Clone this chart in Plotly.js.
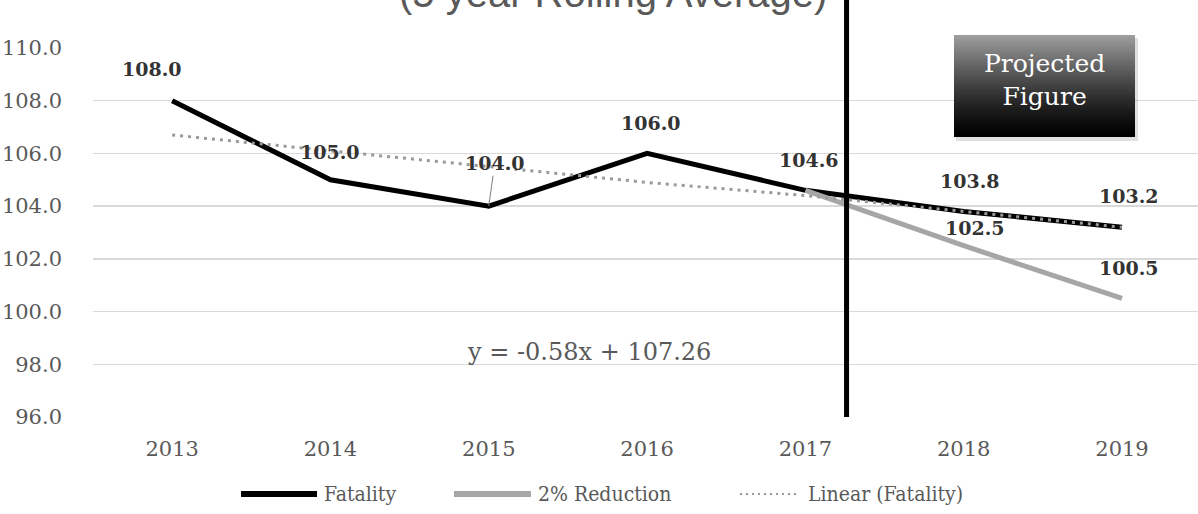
<!DOCTYPE html>
<html>
<head>
<meta charset="utf-8">
<script src="https://cdn.plot.ly/plotly-3.0.1.min.js"></script>
<style>
  html, body { margin: 0; padding: 0; background: #fff; }
  #chart { width: 1198px; height: 514px; }
</style>
</head>
<body>
<div id="chart"></div>
<script>
// ---- data ----
const years = ["2013", "2014", "2015", "2016", "2017", "2018", "2019"];
const fatality = [108.0, 105.0, 104.0, 106.0, 104.6, 103.8, 103.2];
const reductionYears = ["2017", "2018", "2019"];
const reduction = [104.6, 102.5, 100.5];
const trendFatality = [106.7, 106.1, 105.5, 104.9, 104.4, 103.8, 103.2];
const yTicks = [96, 98, 100, 102, 104, 106, 108, 110];
const seriesNames = ["Fatality", "2% Reduction", "Linear (Fatality)"];
const titleText = "(5 year Rolling Average)";
const equationText = "y = -0.58x + 107.26";
const projectedText = "Projected<br>Figure";
const dividerAt = 4.26; // category index where actual data ends (vertical line)

// ---- layout geometry ----
const W = 1198, H = 514;
const M = { l: 93, r: 0, t: 48, b: 97 };
const xRange = [-0.5, 6.48];
const yRange = [96, 110];
const plotW = W - M.l - M.r, plotH = H - M.t - M.b;
const px = x => (x - M.l) / plotW;        // pixel x -> paper
const py = y => (H - M.b - y) / plotH;     // pixel y -> paper
const catToPaper = c => (c - xRange[0]) / (xRange[1] - xRange[0]);
const catIndex = name => years.indexOf(name);

const serif = "DejaVu Serif, Liberation Serif, serif";
const labelFont = { family: serif, size: 19, color: "#333333" };

const traces = [
  { x: years, y: fatality, name: seriesNames[0], type: "scatter", mode: "lines",
    line: { color: "#000000", width: 5 }, showlegend: false, hoverinfo: "skip" },
  { x: reductionYears, y: reduction, name: seriesNames[1], type: "scatter", mode: "lines",
    line: { color: "#a6a6a6", width: 5 }, showlegend: false, hoverinfo: "skip" },
  { x: years, y: trendFatality, name: seriesNames[2], type: "scatter", mode: "lines",
    line: { color: "#9a9a9a", width: 3, dash: "3px,5px" }, showlegend: false, hoverinfo: "skip" }
];

// data label offsets (pixels) – layout only
const fatalityLabelShift = [[-20, 32], [0, 28], [0, 0], [4, 30], [4, 30], [6, 30], [7, 31]];
const reductionLabelShift = [[0, 0], [11, 18], [7, 30]];

const annotations = [];
fatality.forEach((v, i) => {
  const txt = "<b>" + v.toFixed(1) + "</b>";
  if (i === 2) {
    annotations.push({ x: i, y: v, xref: "x", yref: "y", text: txt,
      showarrow: true, arrowhead: 0, arrowwidth: 1, arrowcolor: "#7f7f7f",
      ax: 6, ay: -43, standoff: 0, font: labelFont });
  } else {
    annotations.push({ x: i, y: v, xref: "x", yref: "y", text: txt,
      showarrow: false, xshift: fatalityLabelShift[i][0], yshift: fatalityLabelShift[i][1],
      font: labelFont });
  }
});
reduction.forEach((v, i) => {
  if (i === 0) return; // shares the 104.6 label
  annotations.push({ x: catIndex(reductionYears[i]), y: v, xref: "x", yref: "y",
    text: "<b>" + v.toFixed(1) + "</b>",
    showarrow: false, xshift: reductionLabelShift[i][0], yshift: reductionLabelShift[i][1],
    font: labelFont });
});

// title (cut at top as in the reference)
annotations.push({ xref: "paper", yref: "paper", x: px(613), y: py(17), xanchor: "center", yanchor: "bottom",
  text: titleText, showarrow: false,
  font: { family: "Liberation Sans, Arial, sans-serif", size: 40, color: "#595959" } });

// trendline equation
annotations.push({ xref: "paper", yref: "paper", x: px(589), y: py(352), xanchor: "center", yanchor: "middle",
  text: equationText, showarrow: false, font: { family: serif, size: 24, color: "#595959" } });

// projected figure box text
annotations.push({ xref: "paper", yref: "paper", x: px(1044), y: py(80), xanchor: "center", yanchor: "middle",
  text: projectedText, showarrow: false, font: { family: serif, size: 25, color: "#ffffff" } });

const shapes = [];
// vertical divider
shapes.push({ type: "line", xref: "paper", yref: "paper",
  x0: catToPaper(dividerAt), x1: catToPaper(dividerAt), y0: 0, y1: py(0),
  line: { color: "#000000", width: 5 }, layer: "above" });

// projected box: shadow + gradient stripes
const bx0 = 954, bx1 = 1135, by0 = 35, by1 = 137;
shapes.push({ type: "rect", xref: "paper", yref: "paper", x0: px(bx0 + 2), x1: px(bx1 + 3), y0: py(by1 + 4), y1: py(by0 + 3),
  fillcolor: "rgba(0,0,0,0.12)", line: { width: 0 }, layer: "above" });
const nStripes = 51;
for (let k = 0; k < nStripes; k++) {
  const t0 = k / nStripes, t1 = (k + 1) / nStripes;
  const t = (t0 + t1) / 2;
  const g = Math.round(160 * Math.pow(1 - t, 1.3));
  shapes.push({ type: "rect", xref: "paper", yref: "paper",
    x0: px(bx0), x1: px(bx1), y0: py(by0 + (by1 - by0) * t1), y1: py(by0 + (by1 - by0) * t0),
    fillcolor: `rgb(${g},${g},${g})`, line: { width: 0 }, layer: "above" });
}

// custom legend
const legY = 494;
const legendItems = [
  { x0: 241, x1: 317, tx: 322, color: "#000000", width: 6, dash: "solid" },
  { x0: 454, x1: 531, tx: 536, color: "#a6a6a6", width: 6, dash: "solid" },
  { x0: 740, x1: 798, tx: 806, color: "#9a9a9a", width: 2, dash: "2px,4px" }
];
legendItems.forEach((it, i) => {
  shapes.push({ type: "line", xref: "paper", yref: "paper", x0: px(it.x0), x1: px(it.x1), y0: py(legY), y1: py(legY),
    line: { color: it.color, width: it.width, dash: it.dash } });
  annotations.push({ xref: "paper", yref: "paper", x: px(it.tx), y: py(legY), xanchor: "left", yanchor: "middle",
    text: seriesNames[i], showarrow: false,
    font: { family: "DejaVu Serif Condensed, DejaVu Serif, serif", size: 21, color: "#595959" } });
});

const layout = {
  width: W, height: H,
  margin: M,
  paper_bgcolor: "#ffffff", plot_bgcolor: "#ffffff",
  showlegend: false,
  xaxis: {
    type: "category", range: xRange, showgrid: false, zeroline: false, showline: false,
    ticks: "", ticklabelstandoff: 17,
    tickfont: { family: serif, size: 21, color: "#595959" }
  },
  yaxis: {
    range: yRange, tickvals: yTicks, tickformat: ".1f", showgrid: true, gridcolor: "#d9d9d9", gridwidth: 1.5,
    zeroline: false, showline: false, ticks: "", ticklabelstandoff: 30,
    tickfont: { family: serif, size: 21, color: "#595959" }
  },
  shapes: shapes,
  annotations: annotations
};

Plotly.newPlot("chart", traces, layout, { staticPlot: true, displayModeBar: false });
</script>
</body>
</html>
